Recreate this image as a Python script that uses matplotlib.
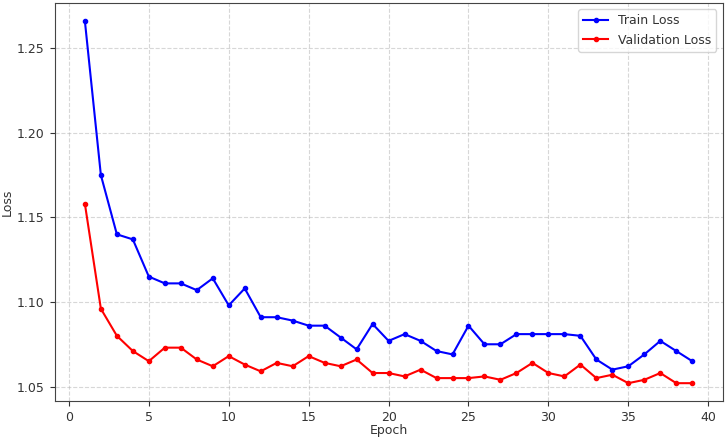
import matplotlib
matplotlib.use("Agg")
import matplotlib.pyplot as plt

epochs = list(range(1, 40))
train_loss = [1.266, 1.175, 1.140, 1.137, 1.115, 1.111, 1.111, 1.107, 1.114, 1.098,
              1.108, 1.091, 1.091, 1.089, 1.086, 1.086, 1.079, 1.072, 1.087, 1.077,
              1.081, 1.077, 1.071, 1.069, 1.086, 1.075, 1.075, 1.081, 1.081, 1.081,
              1.081, 1.080, 1.066, 1.060, 1.062, 1.069, 1.077, 1.071, 1.065]
val_loss = [1.158, 1.096, 1.080, 1.071, 1.065, 1.073, 1.073, 1.066, 1.062, 1.068,
            1.063, 1.059, 1.064, 1.062, 1.068, 1.064, 1.062, 1.066, 1.058, 1.058,
            1.056, 1.060, 1.055, 1.055, 1.055, 1.056, 1.054, 1.058, 1.064, 1.058,
            1.056, 1.063, 1.055, 1.057, 1.052, 1.054, 1.058, 1.052, 1.052]

plt.rcParams['font.size'] = 9
plt.rcParams['text.color'] = '#333333'
plt.rcParams['axes.labelcolor'] = '#333333'
plt.rcParams['xtick.color'] = '#333333'
plt.rcParams['ytick.color'] = '#333333'
plt.rcParams['axes.edgecolor'] = '#444444'

fig, ax = plt.subplots(figsize=(7.27, 4.4), dpi=100)
ax.plot(epochs, train_loss, color="blue", marker="o", markersize=3, lw=1.5, label="Train Loss")
ax.plot(epochs, val_loss, color="red", marker="o", markersize=3, lw=1.5, label="Validation Loss")
ax.set_xlabel("Epoch", labelpad=0)
ax.set_ylabel("Loss", labelpad=2)
ax.grid(True, linestyle="--", alpha=0.5)
ax.legend(loc="upper right")
fig.subplots_adjust(left=0.075, right=0.994, top=0.993, bottom=0.088)
fig.savefig("out.png")
